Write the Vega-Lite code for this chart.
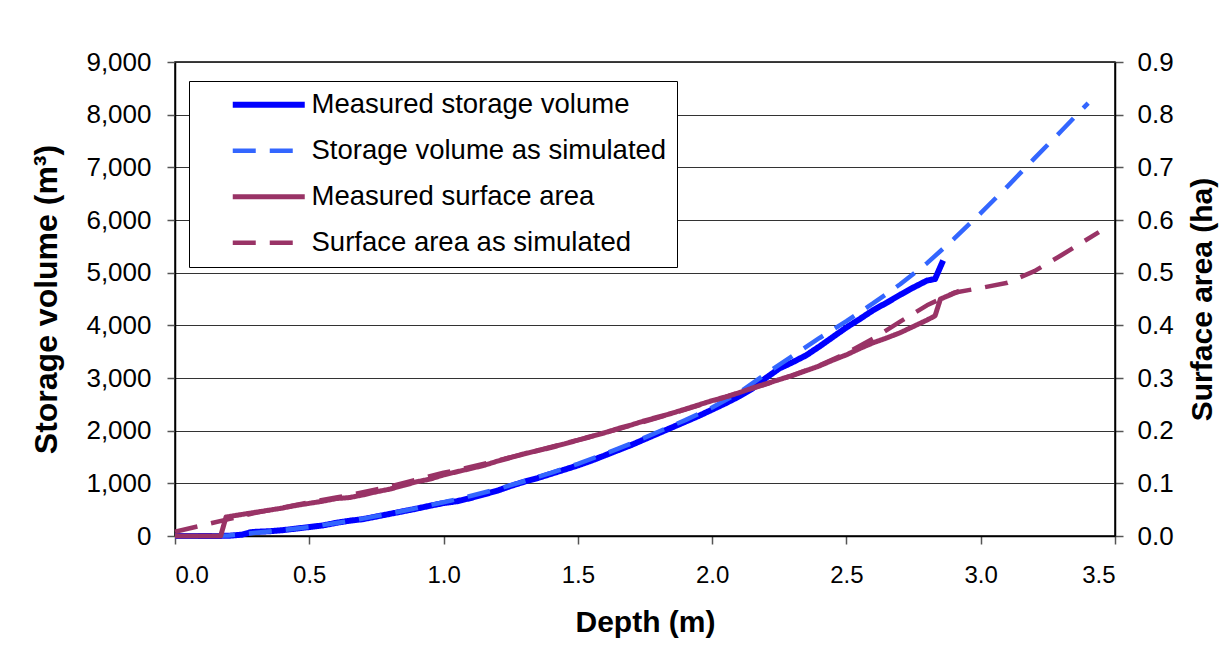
{
  "$schema": "https://vega.github.io/schema/vega-lite/v6.json",
  "width": 940,
  "height": 474,
  "autosize": {"type": "none"},
  "padding": {"left": 175, "top": 62, "right": 113, "bottom": 109},
  "background": "white",
  "config": {
    "font": "Liberation Sans",
    "view": {"stroke": "black", "strokeWidth": 1.5},
    "axis": {
      "labelFont": "Liberation Sans",
      "titleFont": "Liberation Sans",
      "labelColor": "black",
      "titleColor": "black",
      "domainColor": "black",
      "domainWidth": 1.5,
      "tickColor": "#555",
      "tickWidth": 1.5,
      "tickSize": 8,
      "gridColor": "#333",
      "gridWidth": 1.2,
      "titleFontWeight": "bold"
    },
    "legend": {
      "orient": "none",
      "legendX": 14,
      "legendY": 19,
      "strokeColor": "black",
      "fillColor": "white",
      "padding": 10,
      "symbolType": "M-4,0H4",
      "symbolSize": 324,
      "symbolOffset": 56,
      "labelOffset": 29,
      "labelFont": "Liberation Sans",
      "labelFontSize": 27.5,
      "labelColor": "black",
      "labelLimit": 600,
      "rowPadding": 17
    }
  },
  "datasets": {
    "volume": [
      {"series": "Measured storage volume", "depth": 0, "value": 0},
      {"series": "Measured storage volume", "depth": 0.05, "value": 0},
      {"series": "Measured storage volume", "depth": 0.1, "value": 0},
      {"series": "Measured storage volume", "depth": 0.15, "value": 0},
      {"series": "Measured storage volume", "depth": 0.2, "value": 5},
      {"series": "Measured storage volume", "depth": 0.25, "value": 25},
      {"series": "Measured storage volume", "depth": 0.28, "value": 70},
      {"series": "Measured storage volume", "depth": 0.3, "value": 80},
      {"series": "Measured storage volume", "depth": 0.35, "value": 90},
      {"series": "Measured storage volume", "depth": 0.4, "value": 110},
      {"series": "Measured storage volume", "depth": 0.45, "value": 140},
      {"series": "Measured storage volume", "depth": 0.5, "value": 170},
      {"series": "Measured storage volume", "depth": 0.55, "value": 200},
      {"series": "Measured storage volume", "depth": 0.6, "value": 250},
      {"series": "Measured storage volume", "depth": 0.65, "value": 290},
      {"series": "Measured storage volume", "depth": 0.7, "value": 320},
      {"series": "Measured storage volume", "depth": 0.75, "value": 370},
      {"series": "Measured storage volume", "depth": 0.8, "value": 420},
      {"series": "Measured storage volume", "depth": 0.85, "value": 470},
      {"series": "Measured storage volume", "depth": 0.9, "value": 520},
      {"series": "Measured storage volume", "depth": 0.95, "value": 575},
      {"series": "Measured storage volume", "depth": 1.0, "value": 625},
      {"series": "Measured storage volume", "depth": 1.05, "value": 660},
      {"series": "Measured storage volume", "depth": 1.1, "value": 720},
      {"series": "Measured storage volume", "depth": 1.15, "value": 790},
      {"series": "Measured storage volume", "depth": 1.2, "value": 860},
      {"series": "Measured storage volume", "depth": 1.25, "value": 950},
      {"series": "Measured storage volume", "depth": 1.3, "value": 1030},
      {"series": "Measured storage volume", "depth": 1.35, "value": 1100},
      {"series": "Measured storage volume", "depth": 1.4, "value": 1180},
      {"series": "Measured storage volume", "depth": 1.45, "value": 1260},
      {"series": "Measured storage volume", "depth": 1.5, "value": 1340},
      {"series": "Measured storage volume", "depth": 1.55, "value": 1430},
      {"series": "Measured storage volume", "depth": 1.6, "value": 1530},
      {"series": "Measured storage volume", "depth": 1.65, "value": 1630},
      {"series": "Measured storage volume", "depth": 1.7, "value": 1730},
      {"series": "Measured storage volume", "depth": 1.75, "value": 1840},
      {"series": "Measured storage volume", "depth": 1.8, "value": 1950},
      {"series": "Measured storage volume", "depth": 1.85, "value": 2060},
      {"series": "Measured storage volume", "depth": 1.9, "value": 2170},
      {"series": "Measured storage volume", "depth": 1.95, "value": 2280},
      {"series": "Measured storage volume", "depth": 2.0, "value": 2400},
      {"series": "Measured storage volume", "depth": 2.05, "value": 2520},
      {"series": "Measured storage volume", "depth": 2.1, "value": 2650},
      {"series": "Measured storage volume", "depth": 2.15, "value": 2800},
      {"series": "Measured storage volume", "depth": 2.2, "value": 3000},
      {"series": "Measured storage volume", "depth": 2.25, "value": 3180},
      {"series": "Measured storage volume", "depth": 2.3, "value": 3300},
      {"series": "Measured storage volume", "depth": 2.35, "value": 3430},
      {"series": "Measured storage volume", "depth": 2.4, "value": 3600},
      {"series": "Measured storage volume", "depth": 2.45, "value": 3780},
      {"series": "Measured storage volume", "depth": 2.5, "value": 3960},
      {"series": "Measured storage volume", "depth": 2.55, "value": 4120},
      {"series": "Measured storage volume", "depth": 2.6, "value": 4290},
      {"series": "Measured storage volume", "depth": 2.65, "value": 4430},
      {"series": "Measured storage volume", "depth": 2.7, "value": 4580},
      {"series": "Measured storage volume", "depth": 2.75, "value": 4720},
      {"series": "Measured storage volume", "depth": 2.8, "value": 4850},
      {"series": "Measured storage volume", "depth": 2.83, "value": 4880},
      {"series": "Measured storage volume", "depth": 2.86, "value": 5230},
      {"series": "Storage volume as simulated", "depth": 0, "value": 0},
      {"series": "Storage volume as simulated", "depth": 0.1, "value": 0},
      {"series": "Storage volume as simulated", "depth": 0.2, "value": 10},
      {"series": "Storage volume as simulated", "depth": 0.3, "value": 60},
      {"series": "Storage volume as simulated", "depth": 0.4, "value": 110},
      {"series": "Storage volume as simulated", "depth": 0.5, "value": 170},
      {"series": "Storage volume as simulated", "depth": 0.6, "value": 245},
      {"series": "Storage volume as simulated", "depth": 0.7, "value": 330},
      {"series": "Storage volume as simulated", "depth": 0.8, "value": 425},
      {"series": "Storage volume as simulated", "depth": 0.9, "value": 530},
      {"series": "Storage volume as simulated", "depth": 1.0, "value": 640},
      {"series": "Storage volume as simulated", "depth": 1.1, "value": 760},
      {"series": "Storage volume as simulated", "depth": 1.2, "value": 890},
      {"series": "Storage volume as simulated", "depth": 1.3, "value": 1040},
      {"series": "Storage volume as simulated", "depth": 1.4, "value": 1200},
      {"series": "Storage volume as simulated", "depth": 1.5, "value": 1370},
      {"series": "Storage volume as simulated", "depth": 1.6, "value": 1560},
      {"series": "Storage volume as simulated", "depth": 1.7, "value": 1760},
      {"series": "Storage volume as simulated", "depth": 1.8, "value": 1980},
      {"series": "Storage volume as simulated", "depth": 1.9, "value": 2200},
      {"series": "Storage volume as simulated", "depth": 2.0, "value": 2440},
      {"series": "Storage volume as simulated", "depth": 2.1, "value": 2720},
      {"series": "Storage volume as simulated", "depth": 2.2, "value": 3080},
      {"series": "Storage volume as simulated", "depth": 2.3, "value": 3420},
      {"series": "Storage volume as simulated", "depth": 2.4, "value": 3760},
      {"series": "Storage volume as simulated", "depth": 2.5, "value": 4080},
      {"series": "Storage volume as simulated", "depth": 2.6, "value": 4420},
      {"series": "Storage volume as simulated", "depth": 2.7, "value": 4780},
      {"series": "Storage volume as simulated", "depth": 2.8, "value": 5180},
      {"series": "Storage volume as simulated", "depth": 2.9, "value": 5640},
      {"series": "Storage volume as simulated", "depth": 3.0, "value": 6130},
      {"series": "Storage volume as simulated", "depth": 3.1, "value": 6640},
      {"series": "Storage volume as simulated", "depth": 3.2, "value": 7170},
      {"series": "Storage volume as simulated", "depth": 3.3, "value": 7690},
      {"series": "Storage volume as simulated", "depth": 3.4, "value": 8220}
    ],
    "area": [
      {"series": "Measured surface area", "depth": 0, "value": 0},
      {"series": "Measured surface area", "depth": 0.05, "value": 0},
      {"series": "Measured surface area", "depth": 0.1, "value": 0},
      {"series": "Measured surface area", "depth": 0.17, "value": 0},
      {"series": "Measured surface area", "depth": 0.19, "value": 0.036},
      {"series": "Measured surface area", "depth": 0.25, "value": 0.041},
      {"series": "Measured surface area", "depth": 0.3, "value": 0.045},
      {"series": "Measured surface area", "depth": 0.35, "value": 0.049},
      {"series": "Measured surface area", "depth": 0.4, "value": 0.053},
      {"series": "Measured surface area", "depth": 0.45, "value": 0.058},
      {"series": "Measured surface area", "depth": 0.5, "value": 0.062},
      {"series": "Measured surface area", "depth": 0.55, "value": 0.066},
      {"series": "Measured surface area", "depth": 0.6, "value": 0.071},
      {"series": "Measured surface area", "depth": 0.65, "value": 0.073},
      {"series": "Measured surface area", "depth": 0.7, "value": 0.078},
      {"series": "Measured surface area", "depth": 0.75, "value": 0.084},
      {"series": "Measured surface area", "depth": 0.8, "value": 0.089},
      {"series": "Measured surface area", "depth": 0.85, "value": 0.096},
      {"series": "Measured surface area", "depth": 0.9, "value": 0.103},
      {"series": "Measured surface area", "depth": 0.95, "value": 0.108},
      {"series": "Measured surface area", "depth": 1.0, "value": 0.116},
      {"series": "Measured surface area", "depth": 1.05, "value": 0.122},
      {"series": "Measured surface area", "depth": 1.1, "value": 0.128},
      {"series": "Measured surface area", "depth": 1.15, "value": 0.134},
      {"series": "Measured surface area", "depth": 1.2, "value": 0.142},
      {"series": "Measured surface area", "depth": 1.25, "value": 0.149},
      {"series": "Measured surface area", "depth": 1.3, "value": 0.156},
      {"series": "Measured surface area", "depth": 1.35, "value": 0.162},
      {"series": "Measured surface area", "depth": 1.4, "value": 0.168},
      {"series": "Measured surface area", "depth": 1.45, "value": 0.175},
      {"series": "Measured surface area", "depth": 1.5, "value": 0.182},
      {"series": "Measured surface area", "depth": 1.55, "value": 0.189},
      {"series": "Measured surface area", "depth": 1.6, "value": 0.196},
      {"series": "Measured surface area", "depth": 1.65, "value": 0.204},
      {"series": "Measured surface area", "depth": 1.7, "value": 0.211},
      {"series": "Measured surface area", "depth": 1.75, "value": 0.219},
      {"series": "Measured surface area", "depth": 1.8, "value": 0.226},
      {"series": "Measured surface area", "depth": 1.85, "value": 0.233},
      {"series": "Measured surface area", "depth": 1.9, "value": 0.241},
      {"series": "Measured surface area", "depth": 1.95, "value": 0.249},
      {"series": "Measured surface area", "depth": 2.0, "value": 0.257},
      {"series": "Measured surface area", "depth": 2.05, "value": 0.264},
      {"series": "Measured surface area", "depth": 2.1, "value": 0.272},
      {"series": "Measured surface area", "depth": 2.15, "value": 0.281},
      {"series": "Measured surface area", "depth": 2.2, "value": 0.289},
      {"series": "Measured surface area", "depth": 2.25, "value": 0.297},
      {"series": "Measured surface area", "depth": 2.3, "value": 0.305},
      {"series": "Measured surface area", "depth": 2.35, "value": 0.314},
      {"series": "Measured surface area", "depth": 2.4, "value": 0.323},
      {"series": "Measured surface area", "depth": 2.45, "value": 0.334},
      {"series": "Measured surface area", "depth": 2.5, "value": 0.344},
      {"series": "Measured surface area", "depth": 2.55, "value": 0.356},
      {"series": "Measured surface area", "depth": 2.6, "value": 0.367},
      {"series": "Measured surface area", "depth": 2.65, "value": 0.376},
      {"series": "Measured surface area", "depth": 2.7, "value": 0.386},
      {"series": "Measured surface area", "depth": 2.75, "value": 0.398},
      {"series": "Measured surface area", "depth": 2.8, "value": 0.41},
      {"series": "Measured surface area", "depth": 2.83, "value": 0.418},
      {"series": "Measured surface area", "depth": 2.85, "value": 0.45},
      {"series": "Measured surface area", "depth": 2.92, "value": 0.465},
      {"series": "Surface area as simulated", "depth": 0, "value": 0.008},
      {"series": "Surface area as simulated", "depth": 0.1, "value": 0.02},
      {"series": "Surface area as simulated", "depth": 0.2, "value": 0.032},
      {"series": "Surface area as simulated", "depth": 0.3, "value": 0.044},
      {"series": "Surface area as simulated", "depth": 0.4, "value": 0.054},
      {"series": "Surface area as simulated", "depth": 0.5, "value": 0.064},
      {"series": "Surface area as simulated", "depth": 0.6, "value": 0.073},
      {"series": "Surface area as simulated", "depth": 0.7, "value": 0.083},
      {"series": "Surface area as simulated", "depth": 0.8, "value": 0.094},
      {"series": "Surface area as simulated", "depth": 0.9, "value": 0.107},
      {"series": "Surface area as simulated", "depth": 1.0, "value": 0.12},
      {"series": "Surface area as simulated", "depth": 1.1, "value": 0.131},
      {"series": "Surface area as simulated", "depth": 1.2, "value": 0.143},
      {"series": "Surface area as simulated", "depth": 1.3, "value": 0.156},
      {"series": "Surface area as simulated", "depth": 1.4, "value": 0.169},
      {"series": "Surface area as simulated", "depth": 1.5, "value": 0.182},
      {"series": "Surface area as simulated", "depth": 1.6, "value": 0.196},
      {"series": "Surface area as simulated", "depth": 1.7, "value": 0.21},
      {"series": "Surface area as simulated", "depth": 1.8, "value": 0.225},
      {"series": "Surface area as simulated", "depth": 1.9, "value": 0.24},
      {"series": "Surface area as simulated", "depth": 2.0, "value": 0.256},
      {"series": "Surface area as simulated", "depth": 2.1, "value": 0.272},
      {"series": "Surface area as simulated", "depth": 2.2, "value": 0.288},
      {"series": "Surface area as simulated", "depth": 2.3, "value": 0.305},
      {"series": "Surface area as simulated", "depth": 2.4, "value": 0.324},
      {"series": "Surface area as simulated", "depth": 2.5, "value": 0.347},
      {"series": "Surface area as simulated", "depth": 2.6, "value": 0.375},
      {"series": "Surface area as simulated", "depth": 2.7, "value": 0.407},
      {"series": "Surface area as simulated", "depth": 2.8, "value": 0.438},
      {"series": "Surface area as simulated", "depth": 2.9, "value": 0.462},
      {"series": "Surface area as simulated", "depth": 3.0, "value": 0.471},
      {"series": "Surface area as simulated", "depth": 3.1, "value": 0.481},
      {"series": "Surface area as simulated", "depth": 3.2, "value": 0.503},
      {"series": "Surface area as simulated", "depth": 3.3, "value": 0.533},
      {"series": "Surface area as simulated", "depth": 3.44, "value": 0.577}
    ]
  },
  "encoding": {
    "x": {
      "field": "depth",
      "type": "quantitative",
      "scale": {"domain": [0, 3.5], "nice": false, "zero": false},
      "axis": {
        "title": "Depth (m)",
        "values": [0, 0.5, 1, 1.5, 2, 2.5, 3, 3.5],
        "format": ".1f",
        "grid": false,
        "labelFontSize": 24,
        "labelPadding": 19,
        "titleFontSize": 30,
        "titlePadding": 20
      }
    },
    "color": {
      "field": "series",
      "type": "nominal",
      "scale": {
        "domain": ["Measured storage volume", "Storage volume as simulated", "Measured surface area", "Surface area as simulated"],
        "range": ["#0000FF", "#3366FF", "#993366", "#993366"]
      },
      "legend": {"title": null}
    },
    "strokeDash": {
      "field": "series",
      "type": "nominal",
      "scale": {
        "domain": ["Measured storage volume", "Storage volume as simulated", "Measured surface area", "Surface area as simulated"],
        "range": [[1, 0], [23, 14], [1, 0], [23, 14]]
      },
      "legend": {"title": null}
    },
    "strokeWidth": {
      "field": "series",
      "type": "nominal",
      "scale": {
        "type": "ordinal",
        "domain": ["Measured storage volume", "Storage volume as simulated", "Measured surface area", "Surface area as simulated"],
        "range": [6, 4.5, 5, 4.5]
      },
      "legend": {"title": null}
    }
  },
  "layer": [
    {
      "data": {"name": "volume"},
      "mark": {"type": "line", "strokeCap": "butt", "strokeJoin": "round"},
      "encoding": {
        "y": {
          "field": "value",
          "type": "quantitative",
          "scale": {"domain": [0, 9000], "nice": false},
          "axis": {
            "orient": "left",
            "title": "Storage volume (m³)",
            "values": [0, 1000, 2000, 3000, 4000, 5000, 6000, 7000, 8000, 9000],
            "format": ",.0f",
            "grid": true,
            "labelFontSize": 26,
            "labelPadding": 16,
            "titleFontSize": 32,
            "titlePadding": 22
          }
        }
      }
    },
    {
      "data": {"name": "area"},
      "mark": {"type": "line", "strokeCap": "butt", "strokeJoin": "round"},
      "encoding": {
        "y": {
          "field": "value",
          "type": "quantitative",
          "scale": {"domain": [0, 0.9], "nice": false},
          "axis": {
            "orient": "right",
            "title": "Surface area (ha)",
            "titleAngle": 270,
            "values": [0, 0.1, 0.2, 0.3, 0.4, 0.5, 0.6, 0.7, 0.8, 0.9],
            "format": ".1f",
            "grid": false,
            "labelFontSize": 26,
            "labelPadding": 14,
            "titleFontSize": 30,
            "titlePadding": 44
          }
        }
      }
    }
  ],
  "resolve": {"scale": {"y": "independent"}}
}
